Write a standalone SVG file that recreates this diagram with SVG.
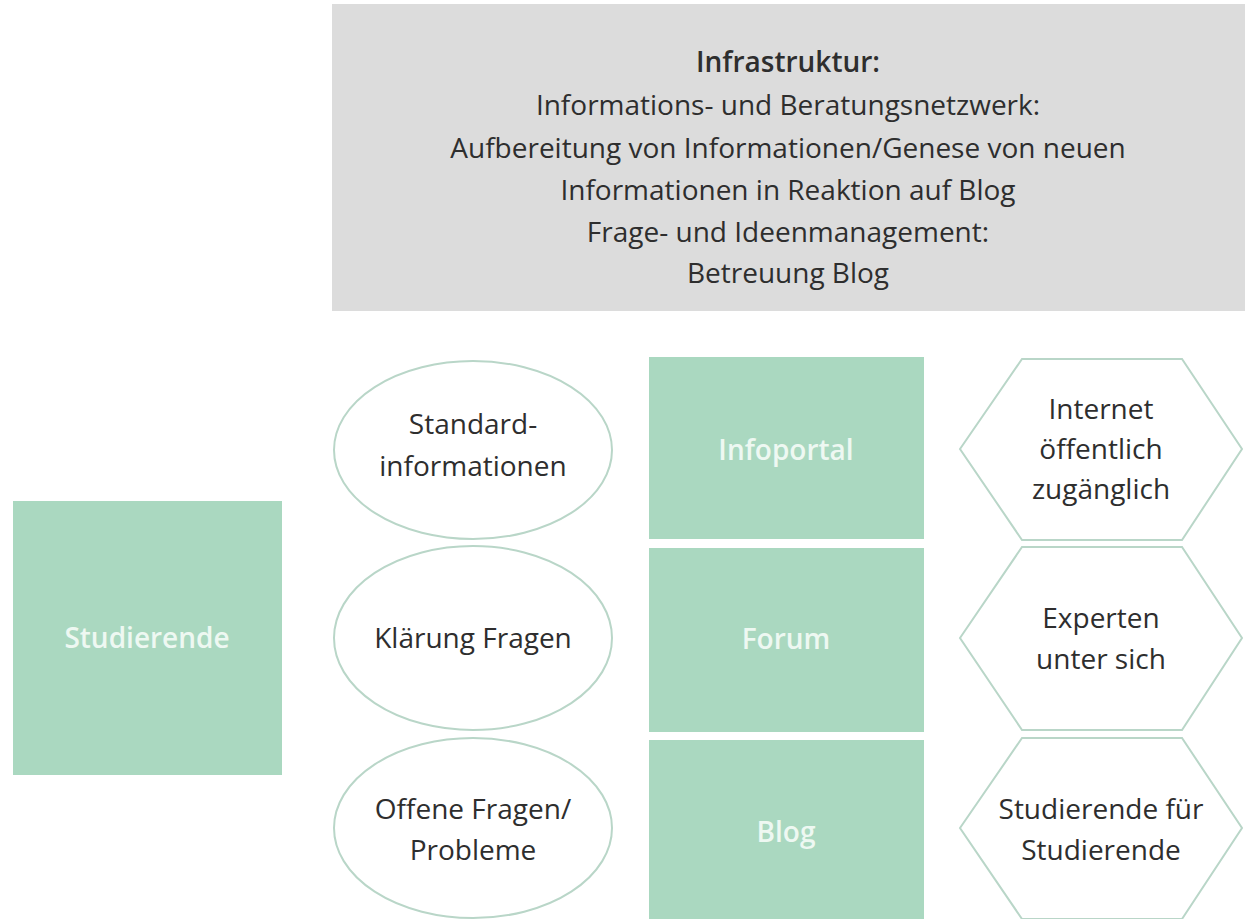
<svg xmlns="http://www.w3.org/2000/svg" width="1245" height="919" viewBox="0 0 1245 919">
<style>
text{font-family:"Open Sans","Noto Sans","Liberation Sans",sans-serif;font-size:28px;fill:#2e2e2e;text-anchor:middle}
.g{fill:#aad8c0}
.w{fill:#eef8f2;font-weight:600}
.o{fill:#ffffff;stroke:#b9d6c8;stroke-width:2}
.h{font-weight:600}
</style>
<rect width="1245" height="919" fill="#ffffff"/>
<g id="infrastruktur">
<rect x="332" y="4" width="913" height="307" fill="#dcdcdc"/>
<text class="h" x="788" y="72">Infrastruktur:</text>
<text x="788" y="115" fill="#3c4a52">Informations- und Beratungsnetzwerk:</text>
<text x="788" y="158">Aufbereitung von Informationen/Genese von neuen</text>
<text x="788" y="200">Informationen in Reaktion auf Blog</text>
<text x="788" y="242">Frage- und Ideenmanagement:</text>
<text x="788" y="283">Betreuung Blog</text>
</g>
<g id="studierende">
<rect class="g" x="13" y="501" width="269" height="274"/>
<text class="w" x="147" y="648">Studierende</text>
</g>
<g id="standardinformationen">
<ellipse class="o" cx="473" cy="450" rx="139" ry="89"/>
<text x="473" y="434">Standard-</text>
<text x="473" y="476">informationen</text>
</g>
<g id="klaerung">
<ellipse class="o" cx="473" cy="638" rx="139" ry="92"/>
<text x="473" y="648">Klärung Fragen</text>
</g>
<g id="offene">
<ellipse class="o" cx="473" cy="828" rx="139" ry="90"/>
<text x="473" y="819">Offene Fragen/</text>
<text x="473" y="860">Probleme</text>
</g>
<g id="infoportal">
<rect class="g" x="649" y="357" width="275" height="182"/>
<text class="w" x="786" y="460">Infoportal</text>
</g>
<g id="forum">
<rect class="g" x="649" y="548" width="275" height="184"/>
<text class="w" x="786" y="649">Forum</text>
</g>
<g id="blog">
<rect class="g" x="649" y="740" width="275" height="179"/>
<text class="w" x="786" y="842">Blog</text>
</g>
<g id="internet">
<polygon class="o" points="960,449 1022,359 1182,359 1242,449 1182,540 1022,540"/>
<text x="1101" y="419">Internet</text>
<text x="1101" y="459">öffentlich</text>
<text x="1101" y="499">zugänglich</text>
</g>
<g id="experten">
<polygon class="o" points="960,638 1022,547 1182,547 1242,638 1182,730 1022,730"/>
<text x="1101" y="628">Experten</text>
<text x="1101" y="669">unter sich</text>
</g>
<g id="studfuerstud">
<polygon class="o" points="960,828 1022,738 1182,738 1242,828 1182,919 1022,919"/>
<text x="1101" y="819">Studierende für</text>
<text x="1101" y="860">Studierende</text>
</g>
<g id="connectors"/>
</svg>
